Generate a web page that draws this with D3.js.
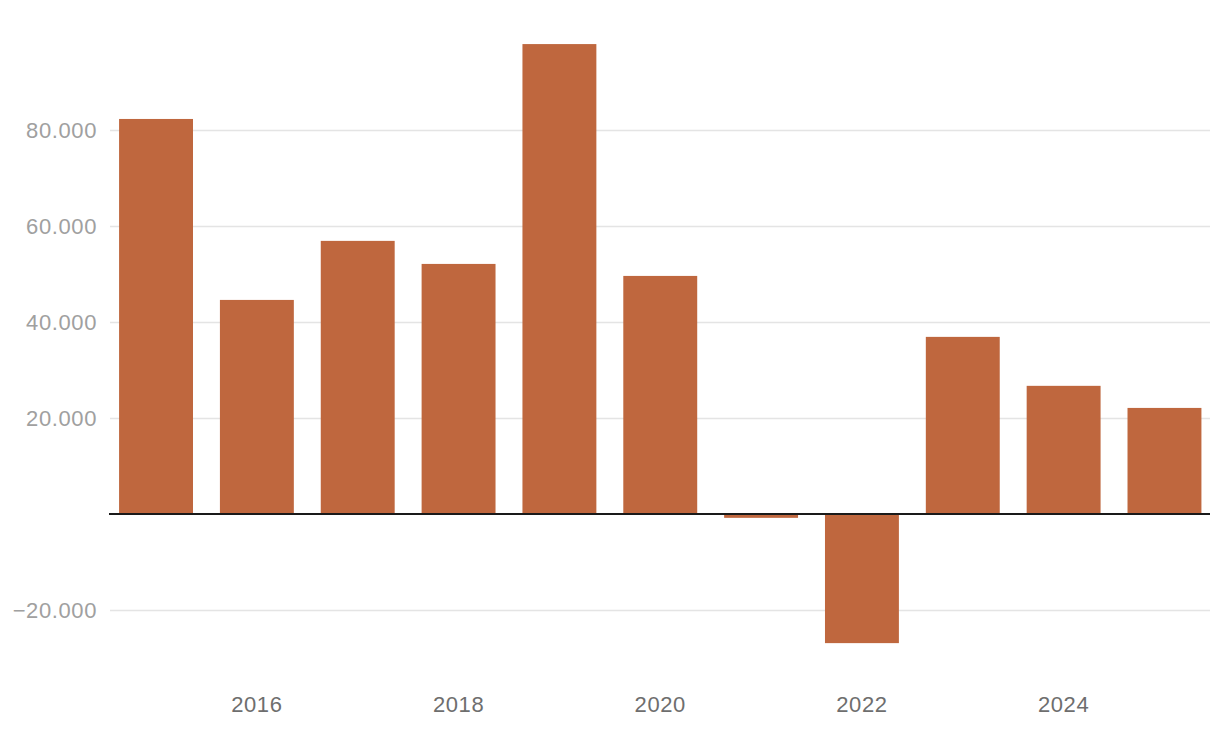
<!DOCTYPE html>
<html>
<head>
<meta charset="utf-8">
<script src="https://cdn.jsdelivr.net/npm/d3@7"></script>
<style>
  html, body { margin: 0; padding: 0; background: #fff; }
  svg { display: block; font-family: "Liberation Sans", Arial, Helvetica, sans-serif; }
</style>
</head>
<body>
<svg id="chart" width="1220" height="730"></svg>
<script>
const years = ["2015","2016","2017","2018","2019","2020","2021","2022","2023","2024","2025"];
const values = [82300, 44600, 56900, 52100, 97900, 49600, -800, -26900, 36900, 26700, 22100];
const yTicks = [-20000, 20000, 40000, 60000, 80000];
const xTickLabels = ["2016","2018","2020","2022","2024"];

const svg = d3.select("#chart");
const left = 109, right = 1210;

const x = d3.scaleBand().domain(years).range([left + 1, right + 0.5]).paddingInner(0.267).paddingOuter(0.09);
const y = d3.scaleLinear().domain([-30000, 100000]).range([658, 34]);

const loc = d3.formatLocale({decimal: ",", thousands: ".", grouping: [3], currency: ["", "€"], minus: "\u2212"});
const fmt = loc.format(",.0f");

// grid lines
svg.append("g").selectAll("line").data(yTicks).join("line")
  .attr("x1", left + 1).attr("x2", right)
  .attr("y1", d => Math.round(y(d)) + 0.5).attr("y2", d => Math.round(y(d)) + 0.5)
  .attr("stroke", "#e4e4e4").attr("stroke-width", 1.5);

// y labels
svg.append("g").selectAll("text").data(yTicks).join("text")
  .attr("x", 97).attr("y", d => y(d))
  .attr("dy", "0.36em")
  .attr("text-anchor", "end")
  .attr("fill", "#a0a0a0")
  .style("font-size", "22px")
  .style("letter-spacing", "0.6px")
  .text(d => fmt(d));

// bars
svg.append("g").selectAll("rect").data(years).join("rect")
  .attr("x", d => x(d))
  .attr("width", x.bandwidth())
  .attr("y", (d, i) => Math.min(y(0), y(values[i])))
  .attr("height", (d, i) => Math.abs(y(values[i]) - y(0)))
  .attr("fill", "#bf673e");

// zero line
svg.append("line")
  .attr("x1", left).attr("x2", right)
  .attr("y1", y(0)).attr("y2", y(0))
  .attr("stroke", "#1a1a1a").attr("stroke-width", 2);

// x labels
svg.append("g").selectAll("text").data(xTickLabels).join("text")
  .attr("x", d => x(d) + x.bandwidth() / 2)
  .attr("y", 704)
  .attr("dy", "0.36em")
  .attr("text-anchor", "middle")
  .attr("fill", "#6e6e6e")
  .style("font-size", "22px")
  .style("letter-spacing", "0.6px")
  .text(d => d);
</script>
</body>
</html>
